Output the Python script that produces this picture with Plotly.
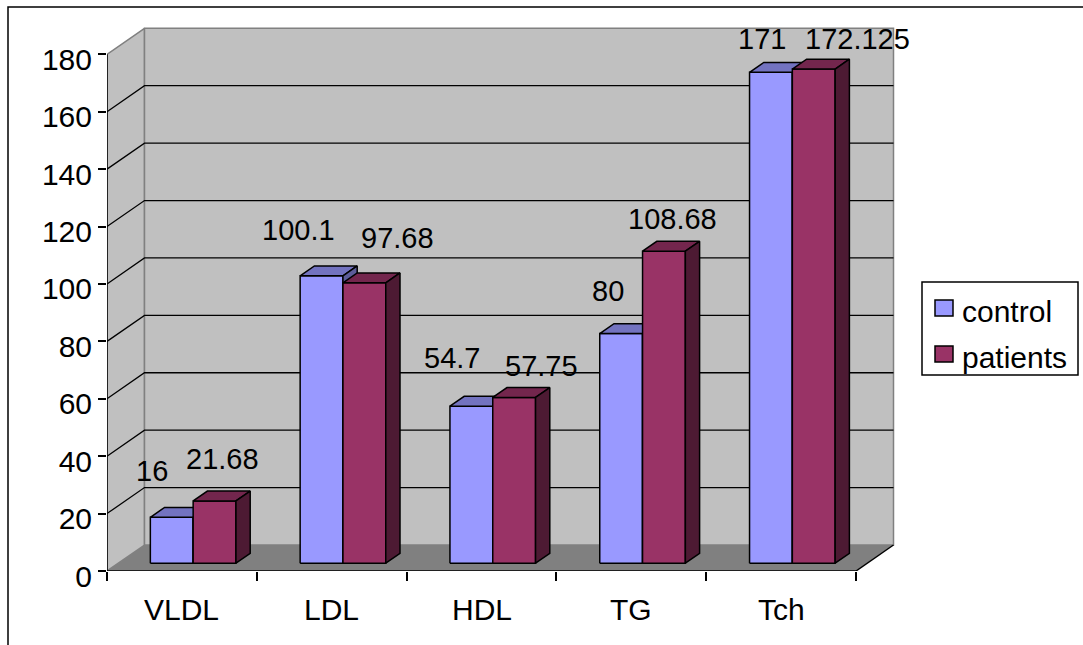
import plotly.graph_objects as go

# ---- data -------------------------------------------------------------
categories = ["VLDL", "LDL", "HDL", "TG", "Tch"]
control = [16, 100.1, 54.7, 80, 171]
patients = [21.68, 97.68, 57.75, 108.68, 172.125]
series_names = ["control", "patients"]
y_ticks = [0, 20, 40, 60, 80, 100, 120, 140, 160, 180]
y_top = 180

# ---- styling ----------------------------------------------------------
FONT = "Liberation Sans, Arial, sans-serif"
FONT_SIZE = 30
LABEL_SIZE = 29
FRONT = ["#9999FF", "#993366"]
TOP = ["#7373C0", "#73264D"]
SIDE = ["#5C5C99", "#4D1A33"]
WALL = "#C0C0C0"
FLOOR = "#808080"
EDGE = "#808080"

# label nudges in pixels (dx, dy) relative to the top of each bar
LABEL_NUDGE = [
    [(-20, 46), (-23, 46), (-19, 48), (-13, 43), (-9, 33)],
    [(8, 42), (33, 45), (27, 31), (9, 32), (44, 30)],
]

# ---- geometry ---------------------------------------------------------
FIG_W, FIG_H = 1083, 645
M_L, M_R, M_T, M_B = 107, 178, 15, 74
PLOT_W = FIG_W - M_L - M_R
PLOT_H = FIG_H - M_T - M_B
PX_PER_CAT = 149.8
PX_PER_UNIT = 2.8706
X_MAX = PLOT_W / PX_PER_CAT
Y_MAX = PLOT_H / PX_PER_UNIT

# oblique depth of the whole chart box, in axis units
DEPTH_X = 37.5 / PX_PER_CAT
DEPTH_Y = 26.0 / PX_PER_UNIT
BAR_D0, BAR_D1 = 0.30, 0.68      # bar front / back depth fractions
BAR_W = 1 / 3.5                  # gap width 150 %
N = len(categories)


def proj(x, y, d):
    return x + d * DEPTH_X, y + d * DEPTH_Y


def px_to_paper(px, py):
    return (px - M_L) / PLOT_W, (FIG_H - M_B - py) / PLOT_H


fig = go.Figure()


def poly(points, fill, line_color=None, line_width=0):
    xs = [p[0] for p in points] + [points[0][0]]
    ys = [p[1] for p in points] + [points[0][1]]
    fig.add_trace(go.Scatter(
        x=xs, y=ys, mode="lines", fill="toself", fillcolor=fill,
        line=dict(color=line_color or fill, width=line_width),
        hoverinfo="skip", showlegend=False))


def polyline(xs, ys, color, width):
    fig.add_trace(go.Scatter(
        x=xs, y=ys, mode="lines", line=dict(color=color, width=width),
        hoverinfo="skip", showlegend=False))


# walls and floor
poly([proj(0, 0, 0), proj(N, 0, 0), proj(N, 0, 1), proj(0, 0, 1)], FLOOR)
poly([proj(0, 0, 0), proj(0, y_top, 0), proj(0, y_top, 1), proj(0, 0, 1)],
     WALL, EDGE, 1.5)
poly([proj(0, 0, 1), proj(N, 0, 1), proj(N, y_top, 1), proj(0, y_top, 1)],
     WALL, EDGE, 1.5)

# gridlines on side wall and back wall
gx, gy = [], []
for v in y_ticks[1:-1]:
    for p in (proj(0, v, 0), proj(0, v, 1), proj(N, v, 1)):
        gx.append(p[0])
        gy.append(p[1])
    gx.append(None)
    gy.append(None)
polyline(gx, gy, "black", 1.3)

# box edges
polyline([0, 0], [0, y_top], "black", 1.5)
polyline([0, N], [0, 0], "black", 1.5)
x1, y1 = proj(N, 0, 1)
polyline([N, x1], [0, y1], "black", 1.5)

# bars
annotations = []
values = [control, patients]
for i in range(N):
    for s in range(2):
        v = values[s][i]
        xl = i + 0.5 - BAR_W + s * BAR_W
        xr = xl + BAR_W
        fl = proj(xl, 0, BAR_D0)
        fr = proj(xr, 0, BAR_D0)
        tl = proj(xl, v, BAR_D0)
        tr = proj(xr, v, BAR_D0)
        btl = proj(xl, v, BAR_D1)
        btr = proj(xr, v, BAR_D1)
        bbr = proj(xr, 0, BAR_D1)
        poly([fl, fr, tr, tl], FRONT[s], "black", 1.5)
        poly([tl, tr, btr, btl], TOP[s], "black", 1.5)
        poly([fr, bbr, btr, tr], SIDE[s], "black", 1.5)
        dx, dy = LABEL_NUDGE[s][i]
        annotations.append(dict(
            x=(tl[0] + tr[0]) / 2, y=tl[1], xref="x", yref="y",
            text=f"{v:g}", showarrow=False, xanchor="center",
            yanchor="middle", xshift=dx, yshift=dy,
            font=dict(family=FONT, size=LABEL_SIZE, color="black")))

# category labels
for i, c in enumerate(categories):
    annotations.append(dict(
        x=i + 0.5, y=0, xref="x", yref="y", text=c, showarrow=False,
        xanchor="center", yanchor="middle", yshift=-38,
        font=dict(family=FONT, size=FONT_SIZE, color="black")))

# legend
shapes = []
lx0, ly0 = px_to_paper(922, 282)
lx1, ly1 = px_to_paper(1078, 375)
shapes.append(dict(type="rect", xref="paper", yref="paper",
                   x0=lx0, y0=ly0, x1=lx1, y1=ly1,
                   line=dict(color="black", width=1.5), fillcolor="white"))
for s, name in enumerate(series_names):
    cy = 308 + s * 46
    sx0, sy0 = px_to_paper(935, cy - 8)
    sx1, sy1 = px_to_paper(953, cy + 8)
    shapes.append(dict(type="rect", xref="paper", yref="paper",
                       x0=sx0, y0=sy0, x1=sx1, y1=sy1,
                       line=dict(color="black", width=1.5),
                       fillcolor=FRONT[s]))
    tx, ty = px_to_paper(960, cy + 3)
    annotations.append(dict(
        x=tx, y=ty, xref="paper", yref="paper", text=name,
        showarrow=False, xanchor="left", yanchor="middle",
        font=dict(family=FONT, size=FONT_SIZE, color="black")))

# outer chart frame
fx0, fy0 = px_to_paper(8, 7)
fx1, fy1 = px_to_paper(1100, 700)
shapes.append(dict(type="rect", xref="paper", yref="paper",
                   x0=fx0, y0=fy1, x1=fx1, y1=fy0,
                   line=dict(color="black", width=1.5)))

fig.update_layout(
    width=FIG_W, height=FIG_H,
    margin=dict(l=M_L, r=M_R, t=M_T, b=M_B),
    paper_bgcolor="white", plot_bgcolor="rgba(0,0,0,0)",
    showlegend=False,
    font=dict(family=FONT, size=FONT_SIZE, color="black"),
    xaxis=dict(range=[0, X_MAX], tickvals=list(range(N + 1)),
               ticktext=[""] * (N + 1), ticks="outside", ticklen=9,
               tickwidth=1.5, tickcolor="black", showgrid=False,
               zeroline=False, showline=False, fixedrange=True),
    yaxis=dict(range=[0, Y_MAX], tickvals=y_ticks, ticks="outside",
               ticklen=8, tickwidth=1.5, tickcolor="black",
               showgrid=False, zeroline=False, showline=False,
               ticklabelstandoff=0, ticklabelshift=5,
               tickfont=dict(family=FONT, size=FONT_SIZE),
               fixedrange=True),
    annotations=annotations,
    shapes=shapes,
)

fig.write_html("out.html")
